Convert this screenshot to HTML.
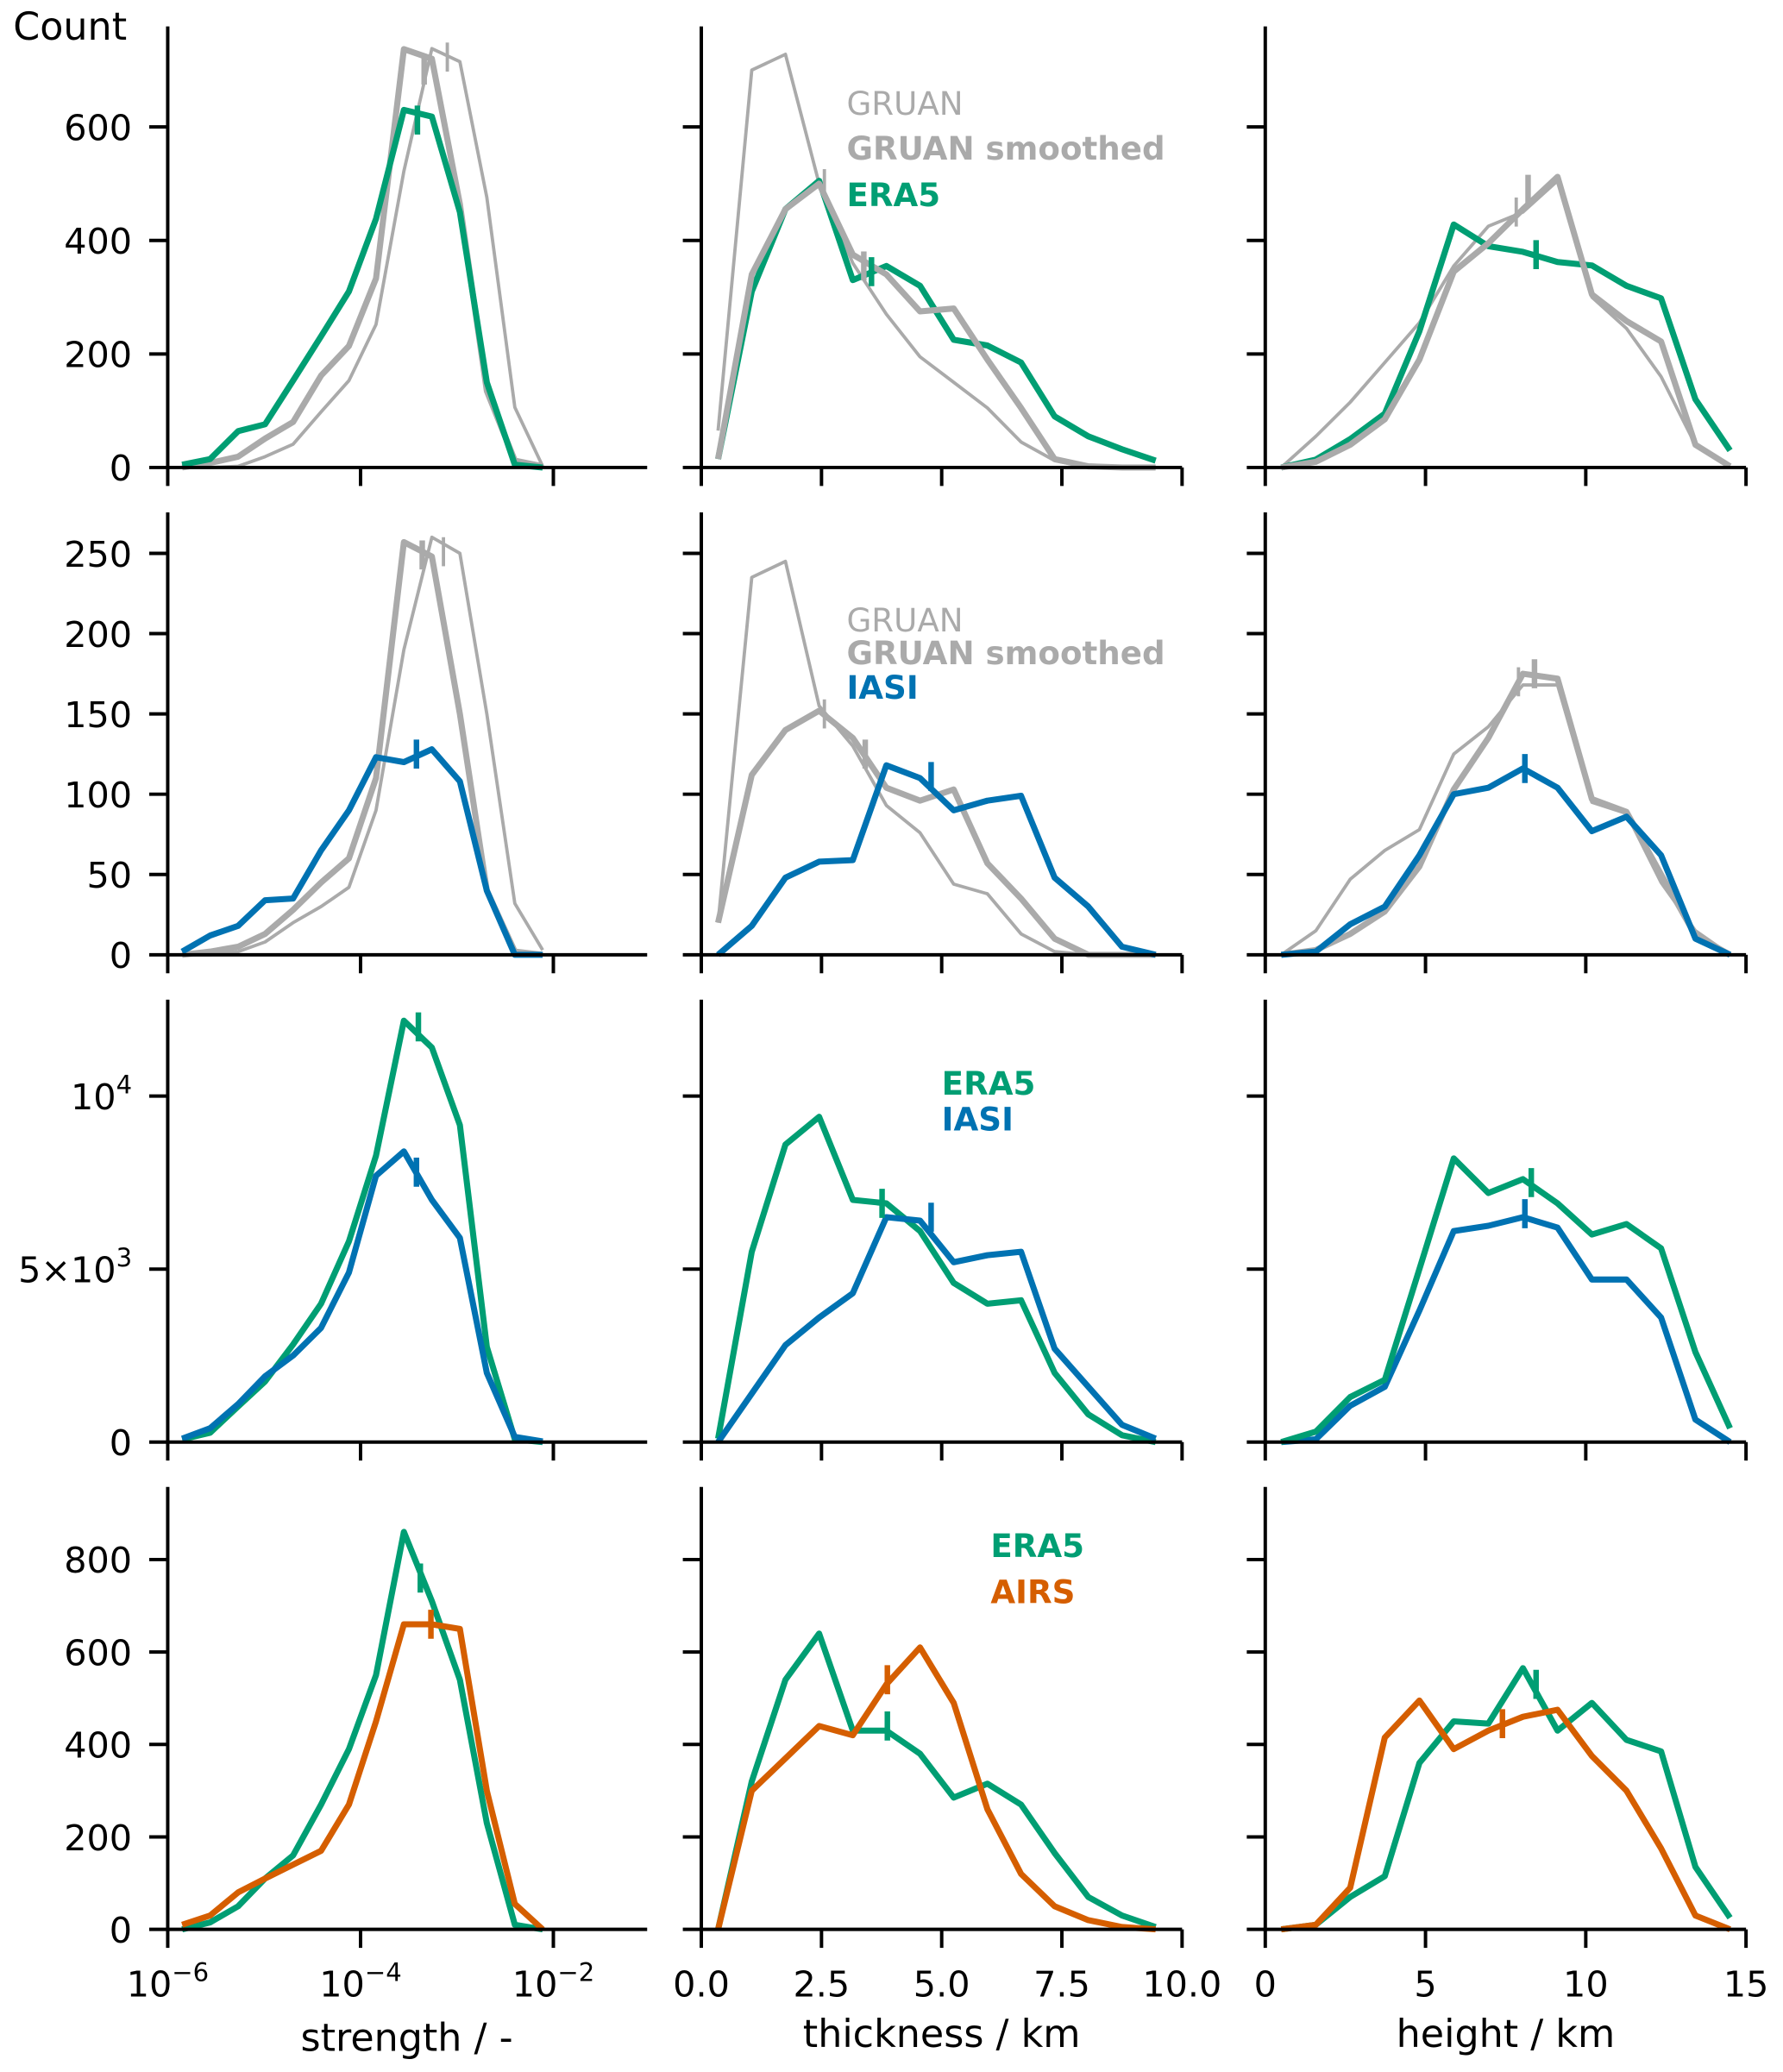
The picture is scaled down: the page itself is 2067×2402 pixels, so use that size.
<!DOCTYPE html>
<html><head><meta charset="utf-8"><style>
html,body{margin:0;padding:0;background:#fff;}
svg{display:block;font-family:"DejaVu Sans","Liberation Sans",sans-serif;}
</style></head><body>
<svg id="fig" width="2067" height="2402" viewBox="0 0 1350 1569" preserveAspectRatio="none" xmlns="http://www.w3.org/2000/svg">
<text x="10" y="30" font-size="29">Count</text>
<g id="panels"></g>
<g id="labels">
<text x="127" y="1512" font-size="27" text-anchor="middle">10<tspan dy="-12" font-size="19">−6</tspan></text>
<text x="273" y="1512" font-size="27" text-anchor="middle">10<tspan dy="-12" font-size="19">−4</tspan></text>
<text x="419" y="1512" font-size="27" text-anchor="middle">10<tspan dy="-12" font-size="19">−2</tspan></text>
<text x="308" y="1553" font-size="29" text-anchor="middle">strength / -</text>
<text x="713" y="1550" font-size="29" text-anchor="middle">thickness / km</text>
<text x="1140" y="1550" font-size="29" text-anchor="middle">height / km</text>
<text x="641" y="87" font-size="24.3" fill="#aaaaaa">GRUAN</text>
<text x="641" y="121" font-size="24.3" font-weight="bold" fill="#aaaaaa">GRUAN smoothed</text>
<text x="641" y="156" font-size="24.3" font-weight="bold" fill="#009e73">ERA5</text>
<text x="641" y="478" font-size="24.3" fill="#aaaaaa">GRUAN</text>
<text x="641" y="503" font-size="24.3" font-weight="bold" fill="#aaaaaa">GRUAN smoothed</text>
<text x="641" y="529" font-size="24.3" font-weight="bold" fill="#0072b2">IASI</text>
<text x="713" y="829" font-size="24.3" font-weight="bold" fill="#009e73">ERA5</text>
<text x="713" y="856" font-size="24.3" font-weight="bold" fill="#0072b2">IASI</text>
<text x="750" y="1179" font-size="24.3" font-weight="bold" fill="#009e73">ERA5</text>
<text x="750" y="1214" font-size="24.3" font-weight="bold" fill="#d55e00">AIRS</text>
</g>
</svg>
<script>
// x categories (bin centres)
const strengthBins = [-5.85,-5.56,-5.27,-4.99,-4.70,-4.41,-4.12,-3.84,-3.55,-3.26,-2.97,-2.69,-2.40,-2.11];
const thicknessBins = [0.35,1.05,1.75,2.45,3.15,3.85,4.55,5.25,5.95,6.65,7.35,8.05,8.75,9.45];
const heightBins = [0.5,1.58,2.65,3.73,4.81,5.88,6.96,8.04,9.12,10.19,11.27,12.35,13.42,14.5];
// row 1: GRUAN vs ERA5
const r1sGruan = [0,0,2,19,41,98,153,252,522,738,715,476,106,2];
const r1sSmooth = [0,8,19,51,80,162,214,333,737,720,464,135,12,2];
const r1sEra5 = [5,15,64,76,153,231,310,438,630,618,450,150,5,0];
const r1tGruan = [65,700,728,500,360,270,195,150,105,45,12,0,0,0];
const r1tSmooth = [15,340,455,500,375,340,275,280,190,105,15,2,0,0];
const r1tEra5 = [15,310,455,505,330,355,320,225,215,185,90,55,32,12];
const r1hGruan = [0,55,115,185,255,355,425,450,505,300,245,160,40,0];
const r1hSmooth = [0,10,40,85,190,345,395,455,512,305,258,222,40,2];
const r1hEra5 = [0,14,50,95,240,428,390,380,362,356,320,298,120,30];
// row 2: GRUAN vs IASI
const r2sGruan = [0,0,2,8,20,30,42,90,190,260,250,150,32,3];
const r2sSmooth = [0,2,5,13,28,45,60,110,257,248,150,40,2,0];
const r2sIasi = [2,12,18,34,35,65,90,123,120,128,108,40,0,0];
const r2tGruan = [20,235,245,155,130,93,76,44,38,13,2,0,0,0];
const r2tSmooth = [20,112,140,152,135,104,96,103,57,35,10,0,0,0];
const r2tIasi = [0,18,48,58,59,118,110,90,96,99,48,30,5,0];
const r2hGruan = [0,15,47,65,78,125,142,168,168,95,88,45,15,0];
const r2hSmooth = [0,3,13,27,55,103,135,175,172,97,89,50,12,0];
const r2hIasi = [0,2,19,30,62,100,104,116,104,77,86,62,10,0];
// row 3: ERA5 vs IASI
const r3sEra5 = [80,270,1030,1750,2820,4000,5800,8280,12180,11400,9160,2750,80,0];
const r3sIasi = [100,400,1100,1900,2500,3300,4900,7700,8400,7000,5900,2000,150,20];
const r3tEra5 = [100,5500,8600,9400,7000,6900,6100,4600,4000,4100,2000,800,200,0];
const r3tIasi = [0,1400,2800,3600,4300,6500,6400,5200,5400,5500,2700,1600,500,100];
const r3hEra5 = [0,300,1300,1800,5000,8200,7200,7600,6900,6000,6300,5600,2600,400];
const r3hIasi = [0,80,1050,1600,3800,6100,6250,6500,6200,4700,4700,3600,650,0];
// row 4: ERA5 vs AIRS
const r4sEra5 = [0,15,50,110,160,270,390,550,860,710,540,230,10,0];
const r4sAirs = [10,30,80,110,140,170,270,450,660,660,650,300,55,0];
const r4tEra5 = [0,320,540,640,430,430,380,285,315,270,165,70,30,5];
const r4tAirs = [0,300,370,440,420,530,610,490,260,120,50,20,5,0];
const r4hEra5 = [0,10,70,115,360,450,445,565,430,490,410,385,135,25];
const r4hAirs = [0,10,90,415,495,390,430,460,475,375,300,175,30,0];
// mean markers [x, y]
const meanMarks = [
 [[-3.10,723,'thin'],[-3.34,700,'gray'],[-3.41,612,'green']],
 [[2.56,500,'thin'],[3.38,355,'gray'],[3.54,345,'green']],
 [[7.83,450,'thin'],[8.2,490,'gray'],[8.45,375,'green']],
 [[-3.14,251,'thin'],[-3.36,249,'gray'],[-3.42,125,'blue']],
 [[2.56,150,'thin'],[3.41,125,'gray'],[4.78,111,'blue']],
 [[7.9,170,'thin'],[8.4,175,'gray'],[8.1,116,'blue']],
 [[-3.40,12000,'green'],[-3.42,7800,'blue']],
 [[3.76,6900,'green'],[4.78,6500,'blue']],
 [[8.3,7500,'green'],[8.1,6600,'blue']],
 [[-3.38,760,'green'],[-3.27,660,'orange']],
 [[3.87,440,'green'],[3.87,540,'orange']],
 [[8.45,530,'green'],[7.4,445,'orange']]
];
const yTicksRow = [[0,200,400,600],[0,50,100,150,200,250],[0,5000,10000],[0,200,400,600,800]];
const yMaxRow = [777,275.5,12786,957];

const NS='http://www.w3.org/2000/svg';
const cols=[{x0:127,x1:490,min:-6,max:-1.027,ticks:[-6,-4,-2],bins:strengthBins},
            {x0:531,x1:895,min:0,max:10,ticks:[0,2.5,5,7.5,10],bins:thicknessBins},
            {x0:958,x1:1322,min:0,max:15,ticks:[0,5,10,15],bins:heightBins}];
const rows=[{top:20,base:354},{top:388,base:723},{top:757,base:1092},{top:1126,base:1461}];
const colors={green:'#009e73',blue:'#0072b2',orange:'#d55e00',gray:'#aaaaaa',thin:'#aaaaaa'};
const series=[
 [[r1sGruan,'thin'],[r1sSmooth,'gray'],[r1sEra5,'green']],
 [[r1tGruan,'thin'],[r1tEra5,'green'],[r1tSmooth,'gray']],
 [[r1hGruan,'thin'],[r1hEra5,'green'],[r1hSmooth,'gray']],
 [[r2sGruan,'thin'],[r2sSmooth,'gray'],[r2sIasi,'blue']],
 [[r2tGruan,'thin'],[r2tSmooth,'gray'],[r2tIasi,'blue']],
 [[r2hGruan,'thin'],[r2hSmooth,'gray'],[r2hIasi,'blue']],
 [[r3sEra5,'green'],[r3sIasi,'blue']],
 [[r3tEra5,'green'],[r3tIasi,'blue']],
 [[r3hIasi,'blue'],[r3hEra5,'green']],
 [[r4sEra5,'green'],[r4sAirs,'orange']],
 [[r4tEra5,'green'],[r4tAirs,'orange']],
 [[r4hEra5,'green'],[r4hAirs,'orange']]
];
function xScale(c,v){return c.x0+(v-c.min)/(c.max-c.min)*(c.x1-c.x0);}
function yScale(r,ri,v){return r.base-v/yMaxRow[ri]*(r.base-r.top);}
function mk(tag,attrs,parent){const e=document.createElementNS(NS,tag);for(const k in attrs)e.setAttribute(k,attrs[k]);parent.appendChild(e);return e;}
const root=document.getElementById('panels');
rows.forEach((r,ri)=>{
 cols.forEach((c,ci)=>{
  const g=mk('g',{},root);
  
  
  const idx=ri*3+ci;
  series[idx].forEach(([vals,col])=>{
   const pts=vals.map((v,i)=>xScale(c,c.bins[i]).toFixed(1)+','+yScale(r,ri,v).toFixed(1)).join(' ');
   const pl=mk('polyline',{points:pts,fill:'none',stroke:colors[col],'stroke-width':col==='thin'?2.5:4.6,'stroke-linejoin':'round'},g);
   
   
  });
  meanMarks[idx].forEach(([mx,my,col])=>{
   const x=xScale(c,mx),y=yScale(r,ri,my);
   const ln=mk('line',{x1:x,x2:x,y1:y-11,y2:y+11,stroke:colors[col],'stroke-width':col==='thin'?2.5:4.2},g);
   
   
  });
  const sy=mk('line',{x1:c.x0,x2:c.x0,y1:r.top,y2:r.base+1.5,stroke:'#000','stroke-width':2.6},g);
  
  
  const sx=mk('line',{x1:c.x0-1.3,x2:c.x1,y1:r.base,y2:r.base,stroke:'#000','stroke-width':2.6},g);
  
  
  c.ticks.forEach(t=>{
   const x=xScale(c,t);
   const tk=mk('line',{x1:x,x2:x,y1:r.base,y2:r.base+14,stroke:'#000','stroke-width':2.6},g);
   
   
   if(ri===3&&ci>0){
    const tx=mk('text',{x:x,y:1512,'font-size':27,'text-anchor':'middle'},g);
    tx.textContent=ci===1?t.toFixed(1):String(t);
    
    
   }
  });
  yTicksRow[ri].forEach(t=>{
   const y=yScale(r,ri,t);
   const tk=mk('line',{x1:c.x0-14,x2:c.x0,y1:y,y2:y,stroke:'#000','stroke-width':2.6},g);
   
   
   if(ci===0){
    const tx=mk('text',{x:100,y:y+10,'font-size':27,'text-anchor':'end'},g);
    if(ri===2&&t===5000){tx.innerHTML='5×10<tspan dy="-12" font-size="19">3</tspan>';}
    else if(ri===2&&t===10000){tx.innerHTML='10<tspan dy="-12" font-size="19">4</tspan>';}
    else tx.textContent=String(t);
    
    
   }
  });
 });
});
</script>
</body></html>
